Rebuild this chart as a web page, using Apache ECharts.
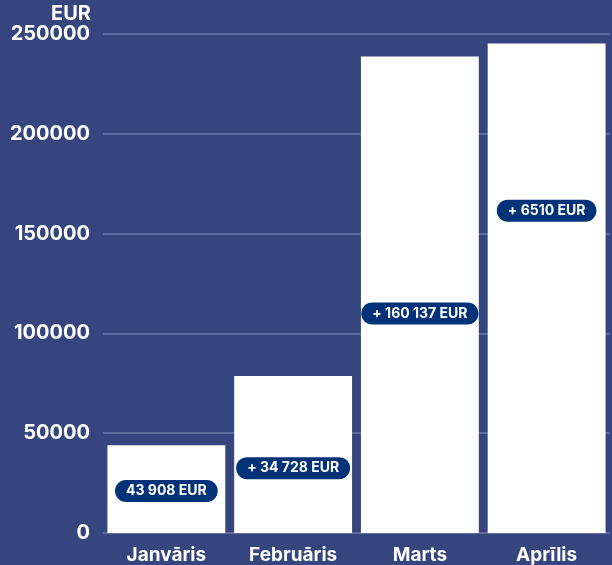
<!DOCTYPE html>
<html>
<head>
<meta charset="utf-8">
<script src="https://cdn.jsdelivr.net/npm/echarts@6/dist/echarts.min.js"></script>
<style>
  html, body { margin: 0; padding: 0; background: #36457e; }
  #chart { width: 612px; height: 565px; }
</style>
</head>
<body>
<div id="chart"></div>
<script>
// mēneši un kopējā summa (EUR)
const months = ['Janvāris', 'Februāris', 'Marts', 'Aprīlis']
const totals = [43908, 78636, 238773, 245283]
const badgeTexts = ['43 908 EUR', '+ 34 728 EUR', '+ 160 137 EUR', '+ 6510 EUR']
const yTicks = [0, 50000, 100000, 150000, 200000, 250000]

// where each badge sits on the value axis (layout only)
const badgeAt = [21000, 32500, 110000, 161500]

const chart = echarts.init(document.getElementById('chart'))
const font = 'Inter, "Open Sans", sans-serif'

chart.setOption({
  backgroundColor: '#36457e',
  animation: false,
  grid: { left: 103, right: 2, top: 34, bottom: 32 },
  xAxis: {
    type: 'category',
    data: months,
    axisLine: { show: false },
    axisTick: { show: false },
    axisLabel: {
      color: '#ffffff',
      fontFamily: font,
      fontWeight: 'bold',
      fontSize: 19,
      margin: 13
    }
  },
  yAxis: {
    type: 'value',
    min: yTicks[0],
    max: yTicks[yTicks.length - 1],
    interval: yTicks[1] - yTicks[0],
    name: 'EUR',
    nameLocation: 'end',
    nameGap: 1,
    nameTextStyle: {
      color: '#ffffff',
      fontFamily: font,
      fontWeight: 'bold',
      fontSize: 20,
      align: 'right',
      padding: [0, 12, 0, 0]
    },
    axisLine: { show: false },
    axisTick: { show: false },
    axisLabel: {
      color: '#ffffff',
      fontFamily: font,
      fontWeight: 'bold',
      fontSize: 20,
      margin: 13,
      formatter: (v) => String(v)
    },
    splitLine: { lineStyle: { color: '#6b78aa', width: 1.5 } }
  },
  series: [
    {
      type: 'bar',
      data: totals,
      barCategoryGap: '7%',
      itemStyle: { color: '#ffffff' },
      z: 2
    },
    {
      type: 'scatter',
      data: badgeAt.map((v, i) => [i, v]),
      symbolSize: 0,
      silent: true,
      z: 5,
      itemStyle: { opacity: 1 },
      label: {
        show: true,
        position: 'inside',
        formatter: (p) => badgeTexts[p.dataIndex],
        color: '#ffffff',
        fontFamily: font,
        fontWeight: 'bold',
        fontSize: 14,
        backgroundColor: '#023278',
        borderRadius: 11,
        padding: [4, 11, 4, 11]
      }
    }
  ]
})
</script>
</body>
</html>
